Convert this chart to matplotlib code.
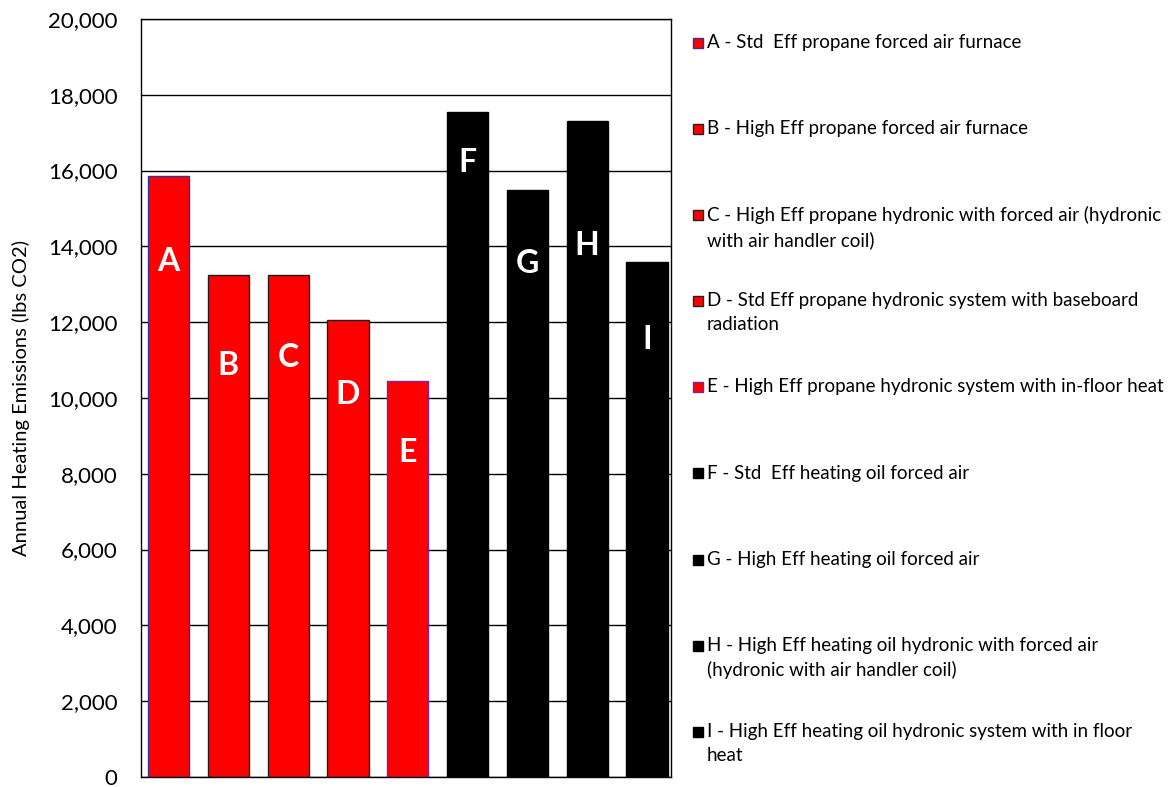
import matplotlib.pyplot as plt
from matplotlib.patches import Rectangle

plt.rcParams['font.family'] = ['Lato', 'DejaVu Sans']

letters = ['A', 'B', 'C', 'D', 'E', 'F', 'G', 'H', 'I']
emissions = [15850, 13250, 13250, 12050, 10450, 17550, 15480, 17300, 13580]
descriptions = [
    'A - Std  Eff propane forced air furnace',
    'B - High Eff propane forced air furnace',
    'C - High Eff propane hydronic with forced air (hydronic\nwith air handler coil)',
    'D - Std Eff propane hydronic system with baseboard\nradiation',
    'E - High Eff propane hydronic system with in-floor heat',
    'F - Std  Eff heating oil forced air',
    'G - High Eff heating oil forced air',
    'H - High Eff heating oil hydronic with forced air\n(hydronic with air handler coil)',
    'I - High Eff heating oil hydronic system with in floor\nheat',
]

# styling
colors = ['red'] * 5 + ['black'] * 4
edges = ['#3030a0', '#202020', '#202020', '#202020', '#8020a0'] + ['black'] * 4
# where the white letters sit inside the bars
label_y = [13600, 10850, 11080, 10080, 8550, 16200, 13560, 14010, 11530]

fig = plt.figure(figsize=(11.75, 7.87), dpi=100)
ax = fig.add_axes([0.120, 0.0127, 0.451, 0.9633])

x = range(len(letters))
ax.bar(x, emissions, width=0.69, color=colors, edgecolor=edges, linewidth=1, zorder=2)
for i, l in enumerate(letters):
    ax.text(i, label_y[i], l, color='white', fontsize=23, fontweight='bold',
            ha='center', va='center', zorder=3)

ax.set_xlim(-0.46, 8.40)
ax.set_ylim(0, 20000)
ax.set_yticks(range(0, 20001, 2000))
ax.set_yticklabels(['{:,}'.format(v) for v in range(0, 20001, 2000)], fontsize=16)
ax.set_xticks([])
ax.yaxis.grid(True, color='black', linewidth=1)
ax.set_axisbelow(True)
ax.tick_params(axis='y', length=0, pad=17)
for s in ax.spines.values():
    s.set_linewidth(1)
ax.set_ylabel('Annual Heating Emissions (lbs CO2)', fontsize=14.5, labelpad=13)

# legend drawn by hand so entries keep even spacing
W, H = 1175, 787
top_px = 43
step_px = 86.1
for i, d in enumerate(descriptions):
    yc = top_px + i * step_px
    fig.patches.append(Rectangle((693 / W, 1 - (yc + 5) / H), 10 / W, 10 / H,
                                 transform=fig.transFigure, facecolor=colors[i],
                                 edgecolor=edges[i], linewidth=1))
    fig.text(707 / W, 1 - (yc - 9) / H, d, fontsize=13.5, va='top', ha='left',
             linespacing=1.5)

fig.savefig('out.png', dpi=100)
